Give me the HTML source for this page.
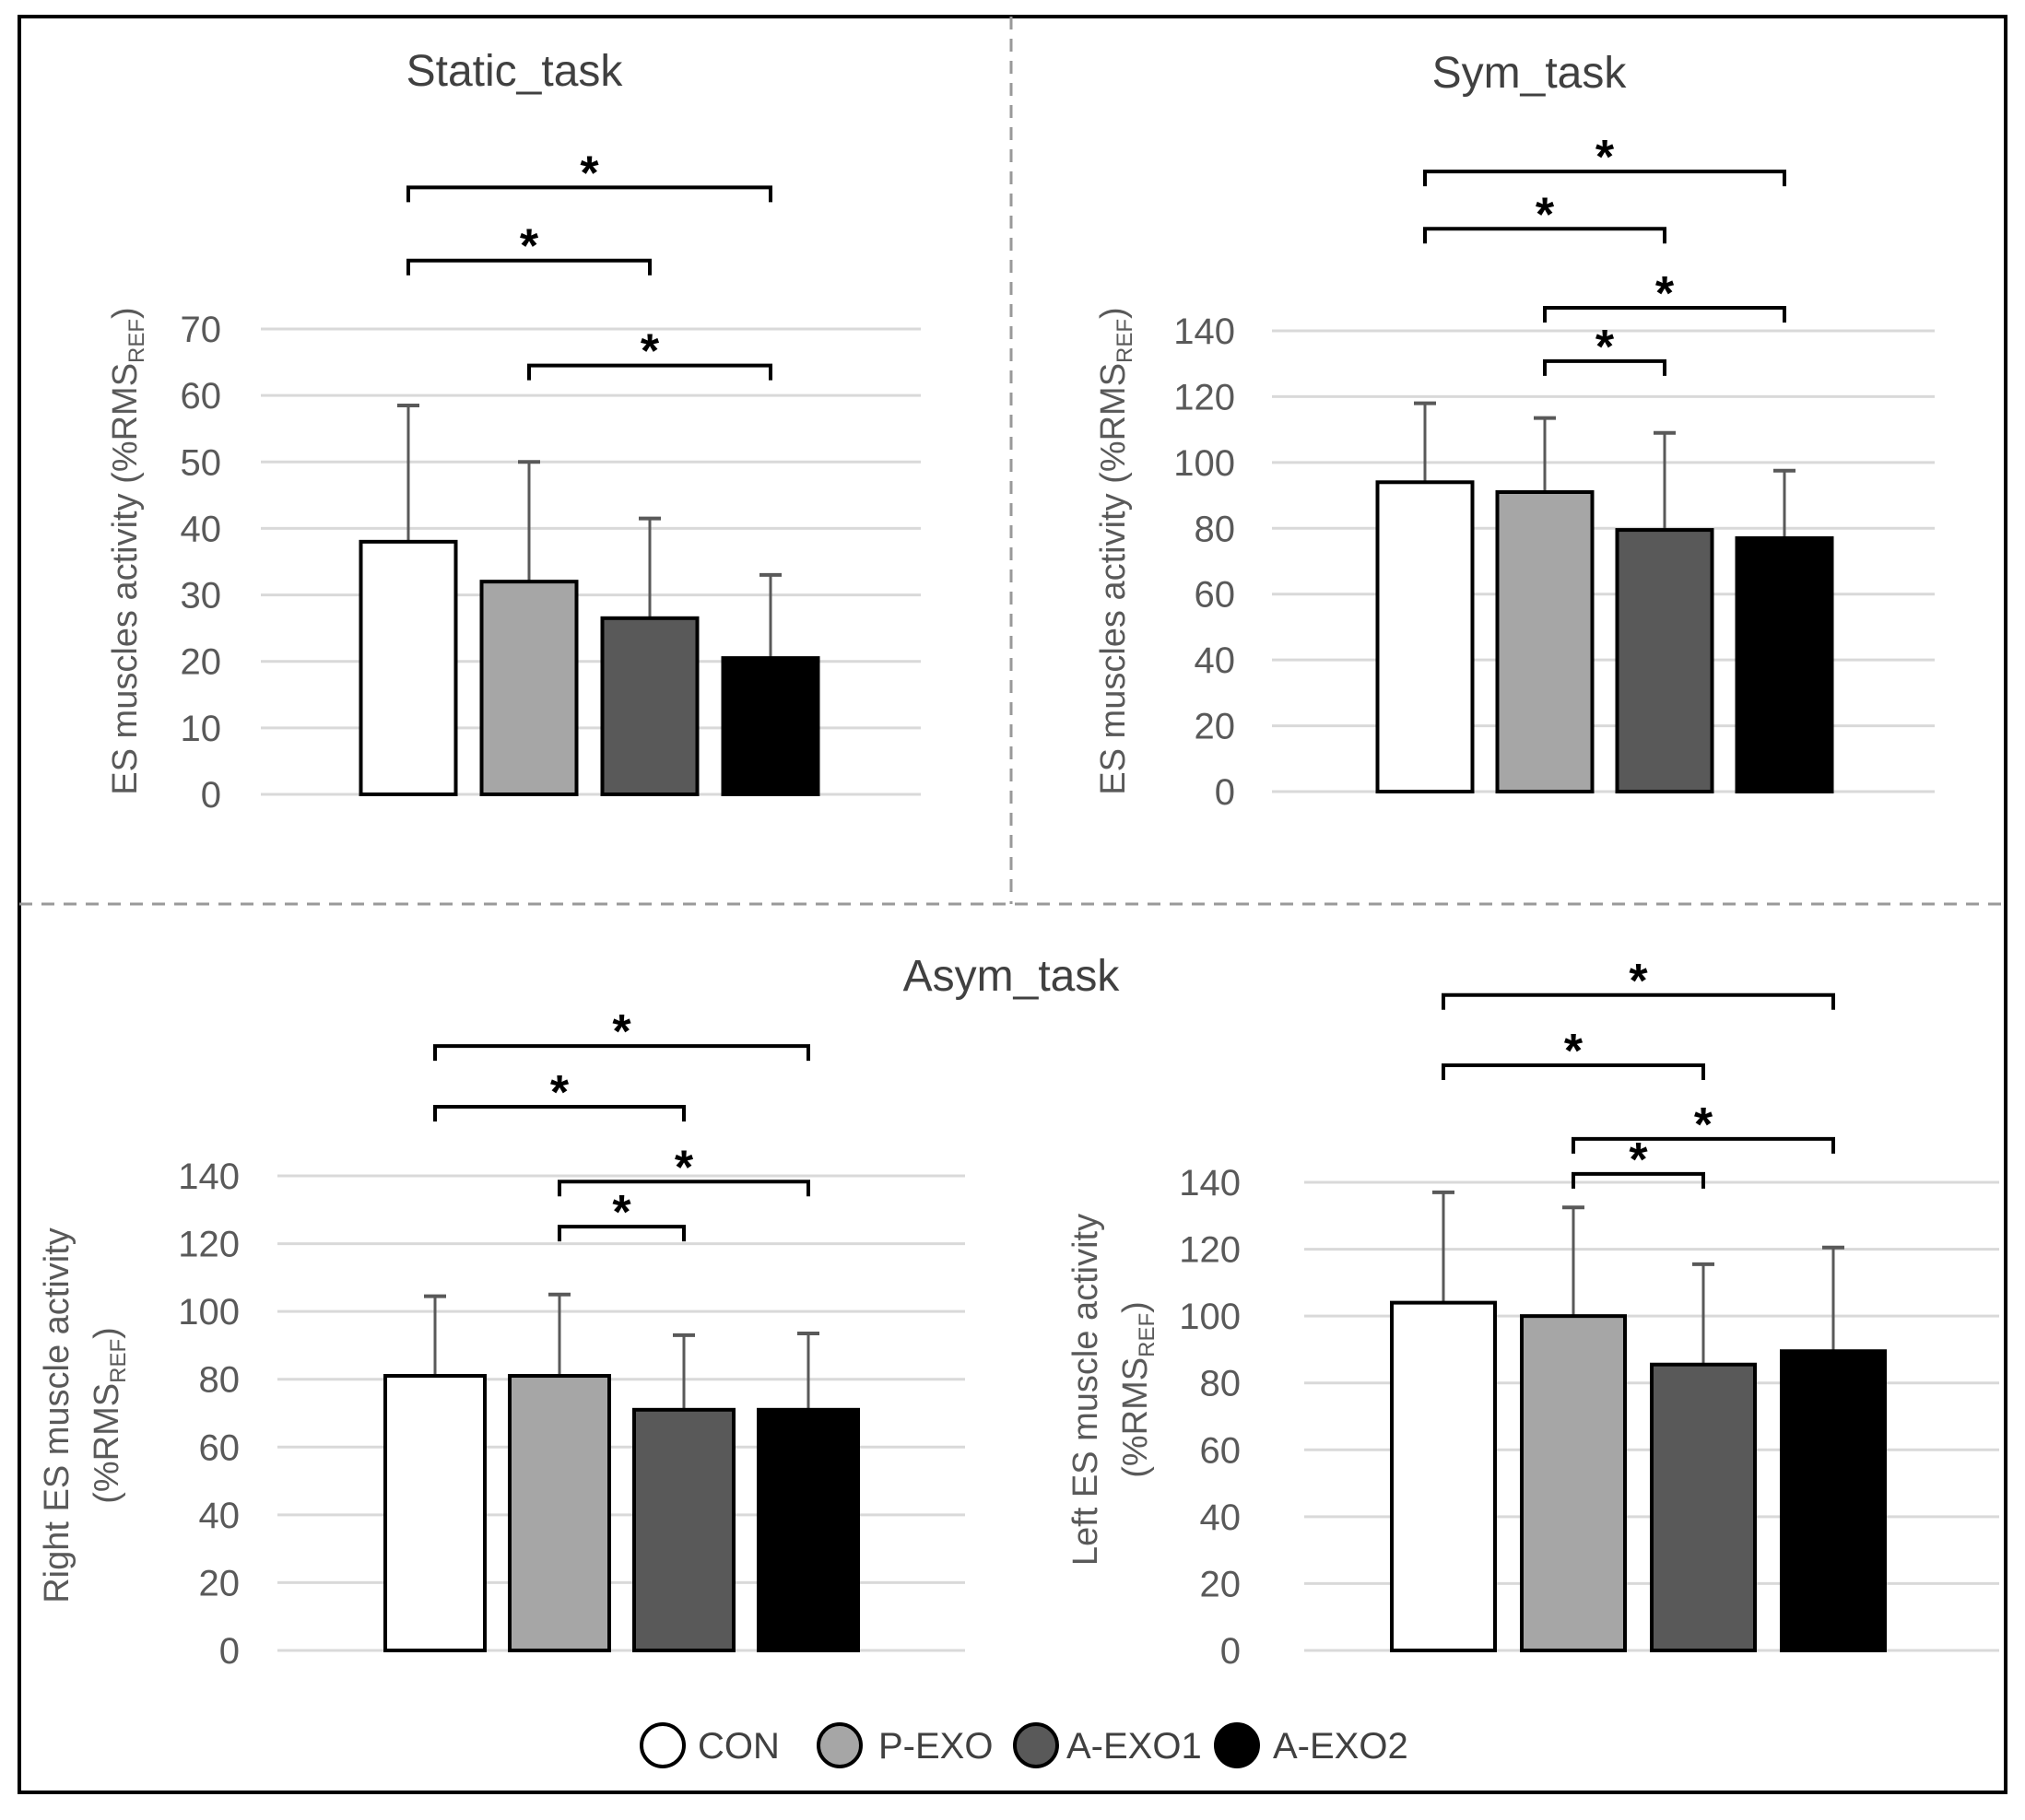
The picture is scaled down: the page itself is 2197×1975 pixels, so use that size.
<!DOCTYPE html>
<html><head><meta charset="utf-8"><style>
html,body{margin:0;padding:0;background:#fff}
svg{display:block}
text{font-family:"Liberation Sans",sans-serif}
</style></head><body>
<svg id="fig" width="2197" height="1975" viewBox="0 0 2197 1975" xmlns="http://www.w3.org/2000/svg">
<rect x="21" y="18" width="2155" height="1927" fill="none" stroke="#000" stroke-width="4"/>
<line x1="1097" y1="18" x2="1097" y2="981" stroke="#999" stroke-width="3" stroke-dasharray="14,10"/>
<line x1="21" y1="981" x2="2176" y2="981" stroke="#999" stroke-width="3" stroke-dasharray="14,10"/>
<text x="1097" y="1075" font-size="48" text-anchor="middle" fill="#404040">Asym_task</text>
<g>
<circle cx="719" cy="1894" r="23" fill="#fff" stroke="#000" stroke-width="4"/>
<text x="757" y="1908" font-size="40" fill="#404040">CON</text>
<circle cx="911" cy="1894" r="23" fill="#a6a6a6" stroke="#000" stroke-width="4"/>
<text x="953" y="1908" font-size="40" fill="#404040">P-EXO</text>
<circle cx="1124" cy="1894" r="23" fill="#595959" stroke="#000" stroke-width="4"/>
<text x="1157" y="1908" font-size="40" fill="#404040">A-EXO1</text>
<circle cx="1342" cy="1894" r="23" fill="#000" stroke="#000" stroke-width="4"/>
<text x="1381" y="1908" font-size="40" fill="#404040">A-EXO2</text>
</g>
</svg>
<script>
const categories = ["CON","P-EXO","A-EXO1","A-EXO2"];
const staticMeans = [38, 32, 26.5, 20.5];
const staticErrTop = [58.5, 50, 41.5, 33];
const staticTicks = [0,10,20,30,40,50,60,70];
const staticBrackets = [[0,2,80.3],[0,3,91.3],[1,3,64.5]];
const symMeans = [94, 91, 79.5, 77];
const symErrTop = [118, 113.5, 109, 97.5];
const symTicks = [0,20,40,60,80,100,120,140];
const symBrackets = [[0,2,171],[0,3,188.4],[1,2,130.8],[1,3,147]];
const rightMeans = [81, 81, 71, 71];
const rightErrTop = [104.5, 105, 93, 93.5];
const rightTicks = [0,20,40,60,80,100,120,140];
const rightBrackets = [[0,2,160.4],[0,3,178.3],[1,2,125],[1,3,138.3]];
const leftMeans = [104, 100, 85.5, 89.5];
const leftErrTop = [137, 132.5, 115.5, 120.5];
const leftTicks = [0,20,40,60,80,100,120,140];
const leftBrackets = [[0,2,175],[0,3,196],[1,2,142.5],[1,3,153]];

const fills = ["#ffffff","#a6a6a6","#595959","#000000"];
const NS = "http://www.w3.org/2000/svg";
const svg = document.getElementById("fig");
function mk(tag, attrs, parent){
  const e = document.createElementNS(NS, tag);
  for (const k in attrs) e.setAttribute(k, attrs[k]);
  (parent||svg).appendChild(e);
  return e;
}
function panel(cfg){
  const g = mk("g", {});
  
  
  const max = cfg.ticks[cfg.ticks.length-1];
  const y = v => cfg.y0 - (cfg.y0 - cfg.yTop) * v / max;
  const x = i => cfg.c0 + i * cfg.step;
  cfg.ticks.forEach(t => {
    const l = mk("line", {x1:cfg.gx0, x2:cfg.gx1, y1:y(t), y2:y(t), stroke:"#d9d9d9", "stroke-width":3}, g);
    
    
    const tx = mk("text", {x:cfg.tickX, y:y(t)+14, "font-size":40, "text-anchor":"end", fill:"#595959"}, g);
    
    
    tx.textContent = t;
  });
  cfg.means.forEach((m, i) => {
    const cx = x(i);
    const el = mk("line", {x1:cx, x2:cx, y1:y(m), y2:y(cfg.err[i]), stroke:"#595959", "stroke-width":3}, g);
    
    
    const cap = mk("line", {x1:cx-12, x2:cx+12, y1:y(cfg.err[i]), y2:y(cfg.err[i]), stroke:"#595959", "stroke-width":4}, g);
    
    
    const r = mk("rect", {x:cx-cfg.w/2, y:y(m), width:cfg.w, height:cfg.y0-y(m), fill:fills[i], stroke:"#000", "stroke-width":4}, g);
    
    
  });
  cfg.brackets.forEach(b => {
    const xa = x(b[0]), xb = x(b[1]), yy = y(b[2]);
    const p = mk("path", {d:`M${xa} ${yy+16} L${xa} ${yy} L${xb} ${yy} L${xb} ${yy+16}`, fill:"none", stroke:"#000", "stroke-width":4}, g);
    
    
    const s = mk("text", {x:(xa+xb)/2, y:yy+2, "font-size":52, "font-weight":"bold", "text-anchor":"middle", fill:"#000"}, g);
    
    
    s.textContent = "*";
  });
  if (cfg.title){
    const t = mk("text", {x:cfg.titleX, y:cfg.titleY, "font-size":48, "text-anchor":"middle", fill:"#404040"}, g);
    
    
    t.textContent = cfg.title;
  }
  cfg.ylab.forEach((line, k) => {
    const t = mk("text", {transform:`translate(${line.x},${cfg.ylabY}) rotate(-90)`, "font-size":38, "text-anchor":"middle", fill:"#595959"}, g);
    
    
    t.innerHTML = line.txt;
  });
}
const rmsLbl = '(%RMS<tspan font-size="24" dy="8">REF</tspan><tspan dy="-8">)</tspan>';
panel({name:"static-task-chart", title:"Static_task", titleX:558, titleY:93, means:staticMeans, err:staticErrTop, ticks:staticTicks, brackets:staticBrackets,
  y0:862, yTop:357, gx0:283, gx1:999, c0:443, step:131, w:103, tickX:240,
  ylabY:598, ylab:[{x:148, txt:'ES muscles activity '+rmsLbl}]});
panel({name:"sym-task-chart", title:"Sym_task", titleX:1659, titleY:95, means:symMeans, err:symErrTop, ticks:symTicks, brackets:symBrackets,
  y0:859, yTop:359, gx0:1380, gx1:2099, c0:1546, step:130, w:103, tickX:1340,
  ylabY:598, ylab:[{x:1220, txt:'ES muscles activity '+rmsLbl}]});
panel({name:"right-es-chart", title:"", means:rightMeans, err:rightErrTop, ticks:rightTicks, brackets:rightBrackets,
  y0:1791, yTop:1276, gx0:301, gx1:1047, c0:472, step:135, w:108, tickX:260,
  ylabY:1536, ylab:[{x:74, txt:'Right ES muscle activity'},{x:128, txt:rmsLbl}]});
panel({name:"left-es-chart", title:"", means:leftMeans, err:leftErrTop, ticks:leftTicks, brackets:leftBrackets,
  y0:1791, yTop:1283, gx0:1415, gx1:2169, c0:1566, step:141, w:112, tickX:1346,
  ylabY:1508, ylab:[{x:1190, txt:'Left ES muscle activity'},{x:1244, txt:rmsLbl}]});
</script>
</body></html>
